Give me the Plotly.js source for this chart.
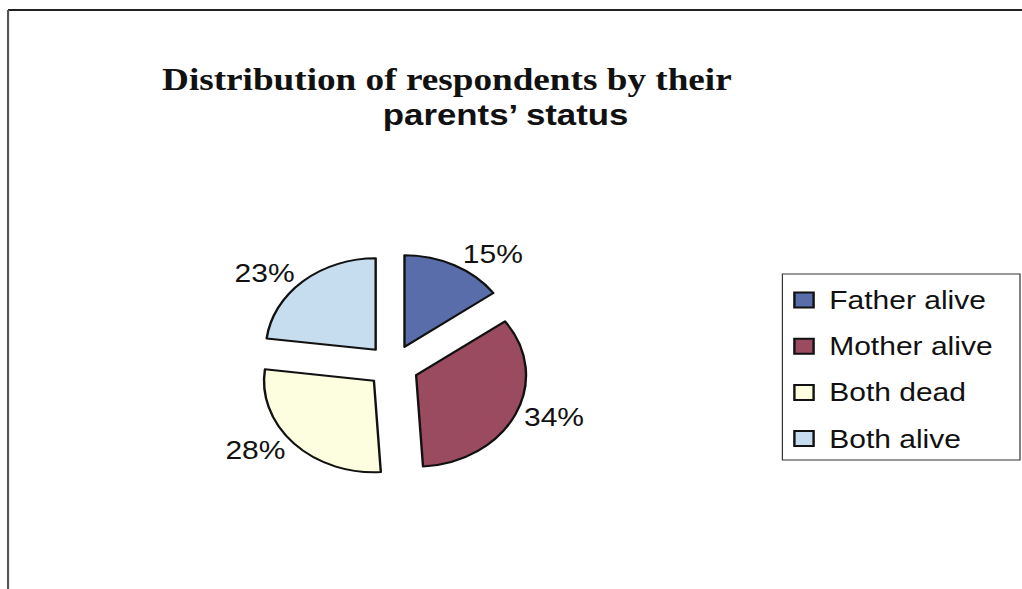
<!DOCTYPE html>
<html><head><meta charset="utf-8">
<script src="https://cdn.plot.ly/plotly-3.0.1.min.js"></script>
<style>
html,body{margin:0;padding:0;background:#fff;overflow:hidden;}
#wrap{width:1022px;height:589px;overflow:hidden;position:relative;}
#chart{width:852px;height:589px;transform:scaleX(1.2);transform-origin:0 0;}
</style></head>
<body><div id="wrap"><div id="chart"></div></div>
<script>
// ---- data ----
const categories = ['Father alive', 'Mother alive', 'Both dead', 'Both alive'];
const shares = [15, 34, 28, 23];
const sliceColors = ['#5a6dab', '#9a4b5f', '#fdfde0', '#c6dcef'];
const titleLine1 = 'Distribution of respondents by their';
const titleLine2 = 'parents\u2019 status';

// ---- layout helpers (chart drawn at 852px then stretched 1.2x horizontally) ----
const W = 852, H = 589;
const px = x => x / W;
const py = y => 1 - y / H;

const shapes = [
  {type: 'line', xref: 'paper', yref: 'paper', x0: px(6.7), x1: 1, y0: py(10), y1: py(10), line: {color: '#222', width: 2}},
  {type: 'line', xref: 'paper', yref: 'paper', x0: px(6.7), x1: px(6.7), y0: py(10), y1: 0, line: {color: '#555', width: 1.8}},
  {type: 'rect', xref: 'paper', yref: 'paper', x0: px(652), x1: px(850), y0: py(274), y1: py(460), line: {color: '#333', width: 1}, fillcolor: 'rgba(0,0,0,0)'}
];
const annotations = [
  {text: '<b>' + titleLine1 + '</b>', xref: 'paper', yref: 'paper', x: px(372), y: py(79), xanchor: 'center', yanchor: 'middle', showarrow: false,
   font: {family: 'Liberation Serif, Times New Roman, serif', size: 31, color: '#111'}},
  {text: '<b>' + titleLine2 + '</b>', xref: 'paper', yref: 'paper', x: px(421), y: py(115), xanchor: 'center', yanchor: 'middle', showarrow: false,
   font: {family: 'Liberation Sans, Arial, sans-serif', size: 29, color: '#111'}}
];
categories.forEach((c, i) => {
  const yc = 300 + i * 46.2;
  shapes.push({type: 'rect', xref: 'paper', yref: 'paper', x0: px(662), x1: px(678), y0: py(yc - 7.5), y1: py(yc + 7.5),
    fillcolor: sliceColors[i], line: {color: '#111', width: 2}});
  annotations.push({text: c, xref: 'paper', yref: 'paper', x: px(689), y: py(yc), xanchor: 'left', yanchor: 'middle', showarrow: false,
    font: {family: 'Liberation Sans, Arial, sans-serif', size: 25, color: '#111'}});
});

const trace = {
  type: 'pie',
  labels: categories,
  values: shares,
  sort: false,
  direction: 'clockwise',
  rotation: 0,
  pull: 0.235,
  marker: {colors: sliceColors, line: {color: '#111', width: 2}},
  textinfo: 'percent',
  textposition: 'outside',
  outsidetextfont: {family: 'Liberation Sans, Arial, sans-serif', size: 25, color: '#111'},
  domain: {x: [0.2514, 0.5169], y: [0.1866, 0.5706]},
  showlegend: false,
  hoverinfo: 'none'
};

const layout = {
  width: W, height: H,
  margin: {l: 0, r: 0, t: 0, b: 0},
  paper_bgcolor: '#fff',
  showlegend: false,
  shapes: shapes,
  annotations: annotations
};
Plotly.newPlot('chart', [trace], layout, {staticPlot: true, displayModeBar: false});
</script>
</body></html>
